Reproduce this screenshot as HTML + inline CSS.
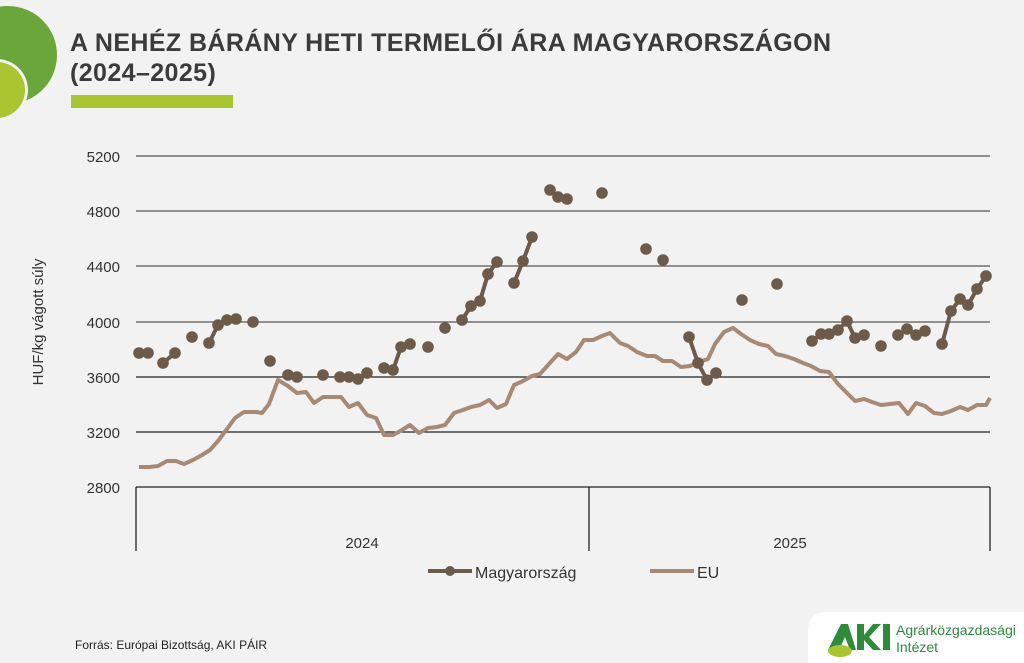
<!DOCTYPE html>
<html><head><meta charset="utf-8"><style>
body{margin:0;background:#f2f2f2;}
svg{display:block}
</style></head><body>
<svg width="1024" height="663" viewBox="0 0 1024 663" xmlns="http://www.w3.org/2000/svg" font-family="Liberation Sans, sans-serif">
<rect width="1024" height="663" fill="#f2f2f2"/>
<circle cx="8" cy="55" r="49" fill="#6aa63a"/>
<circle cx="-3" cy="90" r="31" fill="#f2f2f2"/>
<circle cx="-3" cy="90" r="28" fill="#a9c52f"/>
<text x="70" y="51" font-size="25" font-weight="bold" fill="#3b3b3b" letter-spacing="0.4">A NEHÉZ BÁRÁNY HETI TERMELŐI ÁRA MAGYARORSZÁGON</text>
<text x="70" y="81" font-size="25" font-weight="bold" fill="#3b3b3b" letter-spacing="0.4">(2024–2025)</text>
<rect x="71" y="95" width="162" height="13" fill="#a9c52f"/>
<g stroke="#555" stroke-width="1.3">
<line x1="136" y1="156" x2="990" y2="156"/><line x1="136" y1="211" x2="990" y2="211"/>
<line x1="136" y1="266" x2="990" y2="266"/><line x1="136" y1="322" x2="990" y2="322"/>
<line x1="136" y1="377" x2="990" y2="377" stroke="#222"/><line x1="136" y1="432" x2="990" y2="432" stroke="#222"/>
<line x1="136" y1="487" x2="990" y2="487" stroke="#222"/>
<line x1="136" y1="487" x2="136" y2="551" stroke="#222"/><line x1="589" y1="487" x2="589" y2="551" stroke="#222"/><line x1="990" y1="487" x2="990" y2="551" stroke="#222"/>
</g>
<g font-size="15" fill="#333" text-anchor="end">
<text x="120" y="162">5200</text><text x="120" y="217">4800</text><text x="120" y="272">4400</text><text x="120" y="328">4000</text><text x="120" y="383">3600</text><text x="120" y="438">3200</text><text x="120" y="493">2800</text>
</g>
<text transform="translate(43,322) rotate(-90)" font-size="15" fill="#333" text-anchor="middle">HUF/kg vágott súly</text>
<text x="362" y="548" font-size="15" fill="#333" text-anchor="middle">2024</text>
<text x="790" y="548" font-size="15" fill="#333" text-anchor="middle">2025</text>
<polyline fill="none" stroke="#a88a74" stroke-width="4" stroke-linejoin="round" points="139,467 150,467 158,466 167,461 176,461 184,464 193,460 202,455 210,450 218,441 227,429 235,418 244,412 256,412 262,413 269,404 278,380 288,386 297,393 306,392 314,403 323,397 332,397 341,397 349,407 358,403 367,415 376,418 384,435 393,435 402,430 410,425 419,433 428,428 437,427 445,425 454,413 463,410 471,407 480,405 489,400 497,408 506,404 514,385 523,381 532,376 540,374 549,364 558,354 567,359 576,352 584,340 593,340 602,336 610,333 620,343 628,346 637,352 647,356 655,356 663,361 672,361 681,367 690,366 699,362 708,359 715,344 724,332 733,328 741,334 750,340 759,344 768,346 776,354 785,356 794,359 803,363 811,366 820,371 829,372 838,384 847,393 855,401 864,399 872,402 881,405 890,404 899,403 908,414 916,403 925,406 934,413 942,414 951,411 960,407 968,410 977,405 986,405 990,398"/>
<g stroke="#6e5a48" stroke-width="4" fill="none" stroke-linejoin="round">
<polyline points="139,353 148,353"/><polyline points="163,363 175,353"/>
<polyline points="209,343 218,325 227,320 236,319"/><polyline points="288,375 297,377"/>
<polyline points="340,377 349,377 358,379 367,373"/><polyline points="384,368 393,370 401,347 410,344"/>
<polyline points="462,320 471,306 480,301 488,274 497,262"/><polyline points="514,283 523,261 532,237"/>
<polyline points="550,190 558,197 567,199"/><polyline points="689,337 698,363 707,380 716,373"/>
<polyline points="812,341 821,334 829,334 838,330 847,321 855,338 864,335"/>
<polyline points="898,335 907,329 916,335 925,331"/><polyline points="942,344 951,311 960,299 968,305 977,289 986,276"/>
</g>
<g fill="#6e5a48">
<circle cx="139" cy="353" r="5.8"/><circle cx="148" cy="353" r="5.8"/><circle cx="163" cy="363" r="5.8"/><circle cx="175" cy="353" r="5.8"/><circle cx="192" cy="337" r="5.8"/>
<circle cx="209" cy="343" r="5.8"/><circle cx="218" cy="325" r="5.8"/><circle cx="227" cy="320" r="5.8"/><circle cx="236" cy="319" r="5.8"/><circle cx="253" cy="322" r="5.8"/>
<circle cx="270" cy="361" r="5.8"/><circle cx="288" cy="375" r="5.8"/><circle cx="297" cy="377" r="5.8"/><circle cx="323" cy="375" r="5.8"/>
<circle cx="340" cy="377" r="5.8"/><circle cx="349" cy="377" r="5.8"/><circle cx="358" cy="379" r="5.8"/><circle cx="367" cy="373" r="5.8"/>
<circle cx="384" cy="368" r="5.8"/><circle cx="393" cy="370" r="5.8"/><circle cx="401" cy="347" r="5.8"/><circle cx="410" cy="344" r="5.8"/>
<circle cx="428" cy="347" r="5.8"/><circle cx="445" cy="328" r="5.8"/>
<circle cx="462" cy="320" r="5.8"/><circle cx="471" cy="306" r="5.8"/><circle cx="480" cy="301" r="5.8"/><circle cx="488" cy="274" r="5.8"/><circle cx="497" cy="262" r="5.8"/>
<circle cx="514" cy="283" r="5.8"/><circle cx="523" cy="261" r="5.8"/><circle cx="532" cy="237" r="5.8"/>
<circle cx="550" cy="190" r="5.8"/><circle cx="558" cy="197" r="5.8"/><circle cx="567" cy="199" r="5.8"/><circle cx="602" cy="193" r="5.8"/>
<circle cx="646" cy="249" r="5.8"/><circle cx="663" cy="260" r="5.8"/>
<circle cx="689" cy="337" r="5.8"/><circle cx="698" cy="363" r="5.8"/><circle cx="707" cy="380" r="5.8"/><circle cx="716" cy="373" r="5.8"/>
<circle cx="742" cy="300" r="5.8"/><circle cx="777" cy="284" r="5.8"/>
<circle cx="812" cy="341" r="5.8"/><circle cx="821" cy="334" r="5.8"/><circle cx="829" cy="334" r="5.8"/><circle cx="838" cy="330" r="5.8"/><circle cx="847" cy="321" r="5.8"/><circle cx="855" cy="338" r="5.8"/><circle cx="864" cy="335" r="5.8"/>
<circle cx="881" cy="346" r="5.8"/>
<circle cx="898" cy="335" r="5.8"/><circle cx="907" cy="329" r="5.8"/><circle cx="916" cy="335" r="5.8"/><circle cx="925" cy="331" r="5.8"/>
<circle cx="942" cy="344" r="5.8"/><circle cx="951" cy="311" r="5.8"/><circle cx="960" cy="299" r="5.8"/><circle cx="968" cy="305" r="5.8"/><circle cx="977" cy="289" r="5.8"/><circle cx="986" cy="276" r="5.8"/>
</g>
<line x1="428" y1="571" x2="472" y2="571" stroke="#6e5a48" stroke-width="4"/>
<circle cx="450" cy="571" r="5" fill="#6e5a48"/>
<text x="475" y="578" font-size="16" fill="#333">Magyarország</text>
<line x1="650" y1="571" x2="694" y2="571" stroke="#a88a74" stroke-width="4"/>
<text x="697" y="578" font-size="16" fill="#333">EU</text>
<text x="75" y="649" font-size="12" fill="#222">Forrás: Európai Bizottság, AKI PÁIR</text>
<path d="M808,663 L808,630 Q808,612 828,612 L1024,612 L1024,663 Z" fill="#fff"/>
<polygon points="828,650 841,624 848,624 856,650 850,650 845,637 839,650" fill="#2e8b3a"/>
<polygon points="857,650 857,624 864,624 864,635 873,624 881,624 869,637 881,650 873,650 864,640 864,650" fill="#2e8b3a"/>
<rect x="883" y="624" width="7" height="26" fill="#2e8b3a"/>
<ellipse cx="840" cy="651" rx="12" ry="6" fill="#a9c52f"/>
<text x="896" y="635" font-size="14" fill="#2e8b3a">Agrárközgazdasági</text>
<text x="896" y="652" font-size="14" fill="#2e8b3a">Intézet</text>
</svg>
</body></html>
